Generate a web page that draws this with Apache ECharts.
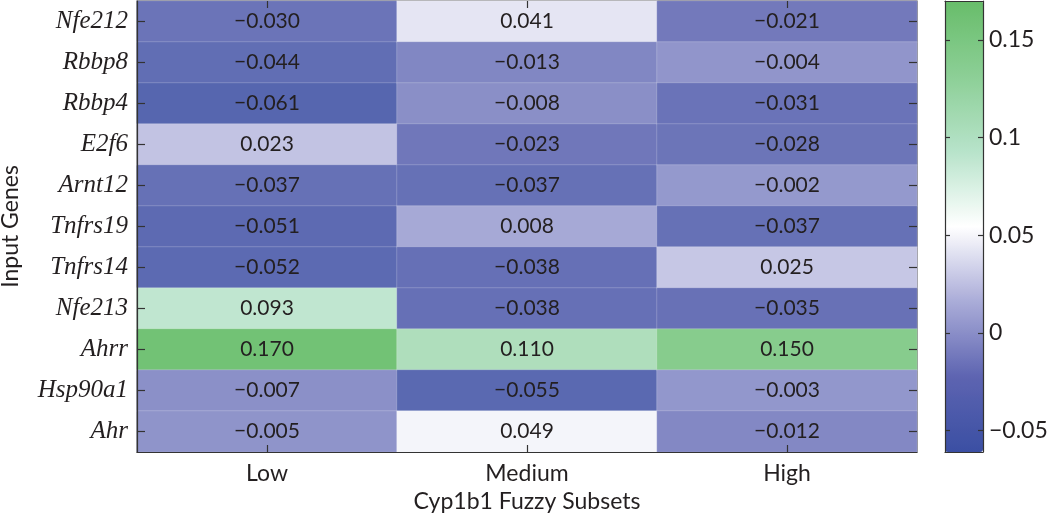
<!DOCTYPE html>
<html><head><meta charset="utf-8">
<script src="https://cdn.jsdelivr.net/npm/echarts@6/dist/echarts.min.js"></script>
<style>html,body{margin:0;padding:0;background:#fff}#c{width:1050px;height:513px}</style>
</head><body><div id="c"></div>
<script>
var genes = ['Nfe212','Rbbp8','Rbbp4','E2f6','Arnt12','Tnfrs19','Tnfrs14','Nfe213','Ahrr','Hsp90a1','Ahr'];
var subsets = ['Low','Medium','High'];
var lowVals = [-0.030,-0.044,-0.061,0.023,-0.037,-0.051,-0.052,0.093,0.170,-0.007,-0.005];
var mediumVals = [0.041,-0.013,-0.008,-0.023,-0.037,0.008,-0.038,-0.038,0.110,-0.055,0.049];
var highVals = [-0.021,-0.004,-0.031,-0.028,-0.002,-0.037,0.025,-0.035,0.150,-0.003,-0.012];
var colorTicks = [-0.05,0,0.05,0.1,0.15];
var colorMin = -0.061, colorMax = 0.170;

var cols = [lowVals, mediumVals, highVals];
var data = [];
cols.forEach(function(arr, ci){ arr.forEach(function(v, ri){ data.push([ci, ri, v]); }); });

function fmt3(v){ return v.toFixed(3).replace('-', '\u2212'); }
function fmtTick(v){ var s = String(Math.round(v*100)/100); return s.replace('-', '\u2212'); }

var txt = '#231f20';
var tickStyle = {color:'#333', width:1.2};
var lineStyle = {color:'#333', width:1.2};
function tickCat(pos, cats, len, inv){
  return {type:'category', data:cats, gridIndex:0, position:pos, inverse:!!inv, z:20,
    axisLine:{show:false}, axisLabel:{show:false}, splitLine:{show:false},
    axisTick:{show:true, inside:true, alignWithLabel:true, length:len, lineStyle:tickStyle}};
}
var chart = echarts.init(document.getElementById('c'));
chart.setOption({
  animation: false,
  grid: [
    {left:137, width:780, top:1, height:451, show:true, borderColor:'#333', borderWidth:1.2, backgroundColor:'transparent', outerBoundsMode:'none', containLabel:false},
    {left:945, width:38, top:1, height:451, show:false, outerBoundsMode:'none', containLabel:false}
  ],
  xAxis: [
    {type:'category', data:subsets, gridIndex:0, position:'bottom', z:20,
     axisLine:{show:true, lineStyle:lineStyle},
     axisTick:{show:false},
     axisLabel:{color:txt, fontFamily:'Lato', fontSize:23, margin:10},
     splitLine:{show:false},
     name:'Cyp1b1 Fuzzy Subsets', nameLocation:'middle', nameGap:36,
     nameTextStyle:{color:txt, fontFamily:'Lato', fontSize:23}},
    tickCat('bottom', subsets, 7),
    tickCat('top', subsets, 7),
    {type:'value', gridIndex:1, min:0, max:1, position:'bottom', z:20,
     axisLine:{show:true, onZero:false, lineStyle:lineStyle},
     axisTick:{show:false}, axisLabel:{show:false}, splitLine:{show:false}},
    {type:'value', gridIndex:1, min:0, max:1, position:'top', z:20,
     axisLine:{show:true, onZero:false, lineStyle:lineStyle},
     axisTick:{show:false}, axisLabel:{show:false}, splitLine:{show:false}}
  ],
  yAxis: [
    {type:'category', data:genes, gridIndex:0, inverse:true, position:'left', z:20,
     axisLine:{show:true, lineStyle:lineStyle},
     axisTick:{show:false},
     axisLabel:{color:txt, fontFamily:'Liberation Serif', fontStyle:'italic', fontSize:25, margin:9},
     splitLine:{show:false},
     name:'Input Genes', nameLocation:'middle', nameGap:115, nameRotate:90,
     nameTextStyle:{color:txt, fontFamily:'Lato', fontSize:23}},
    tickCat('left', genes, 8, true),
    tickCat('right', genes, 8, true),
    {type:'value', gridIndex:1, min:colorMin, max:colorMax, position:'right', z:20,
     axisLine:{show:true, onZero:false, lineStyle:lineStyle},
     axisTick:{show:true, inside:true, length:5, customValues:colorTicks, lineStyle:tickStyle},
     axisLabel:{show:true, customValues:colorTicks, formatter:fmtTick, color:txt, fontFamily:'Lato', fontSize:23, margin:6},
     splitLine:{show:false}},
    {type:'value', gridIndex:1, min:colorMin, max:colorMax, position:'right', offset:-38, z:20,
     axisLine:{show:true, onZero:false, lineStyle:lineStyle},
     axisTick:{show:true, inside:false, length:5, customValues:colorTicks, lineStyle:tickStyle},
     axisLabel:{show:false}, splitLine:{show:false}}
  ],
  visualMap: [{
    type:'continuous', min:colorMin, max:colorMax, calculable:false, show:false,
    seriesIndex:0,
    inRange:{color:['#5666af','#7077ba','#b4b6dd','#ffffff','#c0e6d0','#9ad5a3','#72c275']}
  },{
    type:'continuous', min:colorMin, max:colorMax, calculable:false, show:true,
    left:945, top:1, itemWidth:38, itemHeight:451, padding:0, text:null, showLabel:false,
    seriesIndex:1,
    inRange:{color:['#3b4fa3','#5d64b1','#aaacd8','#ffffff','#b7e3ca','#8ccf96','#68bd6a']}
  }],
  series: [{
    type:'heatmap', xAxisIndex:0, yAxisIndex:0, data:data,
    itemStyle:{borderColor:'rgba(255,255,255,0.2)', borderWidth:1},
    label:{show:true, color:txt, fontFamily:'Lato', fontSize:21,
      formatter:function(p){ return fmt3(p.value[2]); }},
    emphasis:{disabled:true}
  },{
    type:'scatter', xAxisIndex:3, yAxisIndex:3, data:[], silent:true
  }]
});
</script></body></html>
